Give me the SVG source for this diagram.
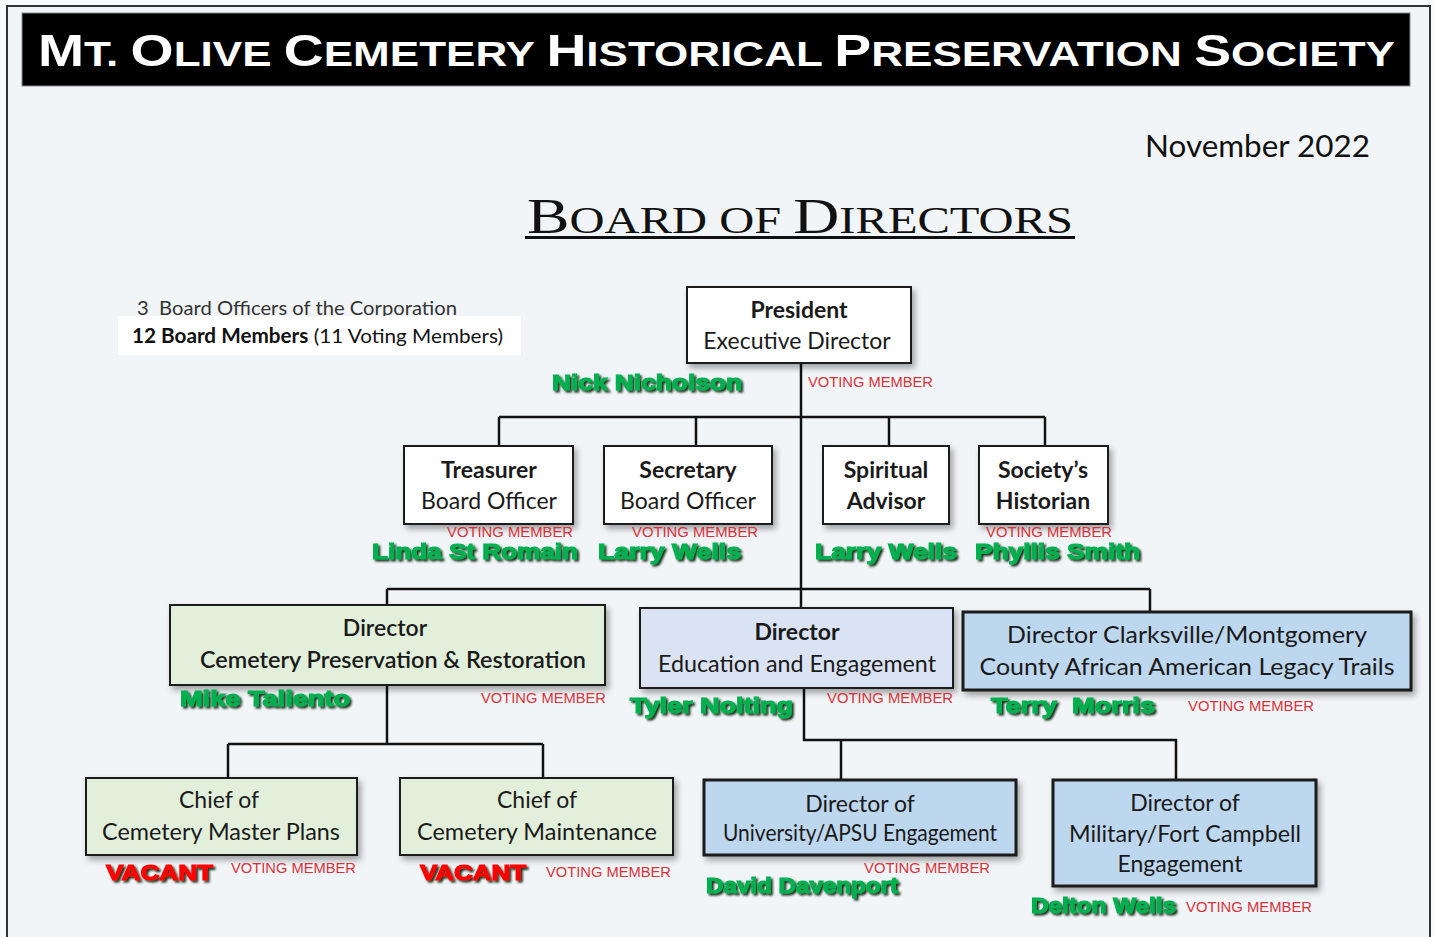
<svg xmlns="http://www.w3.org/2000/svg" width="1435" height="937" viewBox="0 0 1435 937">
<defs>
<filter id="sh" x="-10%" y="-10%" width="130%" height="140%">
<feDropShadow dx="3" dy="4" stdDeviation="3" flood-color="#000" flood-opacity="0.35"/>
</filter>
<filter id="ts" x="-5%" y="-20%" width="115%" height="160%">
<feDropShadow dx="2" dy="2" stdDeviation="0.8" flood-color="#0b2410" flood-opacity="0.95"/>
</filter>
<style>
.box{stroke:#1a1a1a;stroke-width:2}
.thick{stroke-width:3}
.w{fill:#ffffff}
.g{fill:#e2efda}
.lb{fill:#dae3f3}
.b{fill:#bdd7ee}
.t{font-family:Lato,"Open Sans",sans-serif;fill:#1a1a1a;text-anchor:middle;font-size:23px}
.bd{font-weight:bold}
.sb{font-weight:600}
.vm{font-family:"Liberation Sans Narrow","Liberation Sans",Arial,sans-serif;fill:#d9323a;font-size:14px}
.nm{font-family:"Liberation Sans",Arial,sans-serif;font-weight:bold;font-size:22px;fill:#00b050;stroke:#00b050;stroke-width:1.2;filter:url(#ts)}
.vac{fill:#ff0000;stroke:#ff0000}
.ln{stroke:#111;stroke-width:2.5;fill:none}
</style>
</defs>
<rect x="0" y="0" width="1435" height="937" fill="#f7f9fa"/>
<rect x="7" y="6" width="1423" height="940" fill="#f2f5f7" stroke="#333" stroke-width="2"/>
<rect x="22" y="13" width="1388" height="73" fill="#000" stroke="#888" stroke-width="1"/>
<text x="38" y="66" textLength="1357" lengthAdjust="spacingAndGlyphs" font-family="'Liberation Sans',Arial,sans-serif" font-weight="bold" fill="#fff" font-size="44">M<tspan font-size="35">T. </tspan>O<tspan font-size="35">LIVE </tspan>C<tspan font-size="35">EMETERY </tspan>H<tspan font-size="35">ISTORICAL </tspan>P<tspan font-size="35">RESERVATION </tspan>S<tspan font-size="35">OCIETY</tspan></text>
<text x="1145" y="157" textLength="225" lengthAdjust="spacingAndGlyphs" font-family="Lato,'Open Sans',sans-serif" font-size="30" fill="#111">November 2022</text>
<text x="527" y="233" textLength="546" lengthAdjust="spacingAndGlyphs" font-family="'Liberation Serif',serif" font-size="50" fill="#111">B<tspan font-size="38">OARD OF </tspan>D<tspan font-size="38">IRECTORS</tspan></text>
<rect x="525" y="236" width="550" height="3" fill="#111"/>
<text x="137" y="315" textLength="320" lengthAdjust="spacingAndGlyphs" font-family="Lato,'Open Sans',sans-serif" font-size="19" fill="#333" xml:space="preserve">3  Board Officers of the Corporation</text>
<rect x="118" y="316" width="403" height="39" fill="#ffffff"/>
<text x="132" y="343" textLength="371" lengthAdjust="spacingAndGlyphs" font-family="Lato,'Open Sans',sans-serif" font-size="20" fill="#111"><tspan font-weight="bold">12 Board Members</tspan> (11 Voting Members)</text>

<g id="connectors">
<path class="ln" d="M801 363 V589 M499 417 H1045 M499 417 V446 M696 417 V446 M889 417 V446 M1045 417 V446"/>
<path class="ln" d="M387 589 H1150 M387 589 V605 M801 589 V608 M1150 589 V612"/>
<path class="ln" d="M387 685 V744 M228 744 H543 M228 744 V778 M543 744 V778"/>
<path class="ln" d="M804 688 V740 H1176 V780 M841 740 V780"/>
</g>

<g id="president">
<rect class="box w" x="687" y="287" width="224" height="76" filter="url(#sh)"/>
<text class="t bd" x="799" y="318">President</text>
<text class="t" x="797" y="349">Executive Director</text>
<text class="nm" x="552" y="390" textLength="190" lengthAdjust="spacingAndGlyphs">Nick Nicholson</text>
<text class="vm" x="808" y="387" textLength="125" lengthAdjust="spacingAndGlyphs">VOTING MEMBER</text>
</g>

<g id="treasurer">
<rect class="box w" x="404" y="446" width="169" height="78" filter="url(#sh)"/>
<text class="t bd" x="489" y="478">Treasurer</text>
<text class="t" x="489" y="509">Board Officer</text>
<text class="vm" x="447" y="537" textLength="126" lengthAdjust="spacingAndGlyphs">VOTING MEMBER</text>
<text class="nm" x="372" y="559" textLength="206" lengthAdjust="spacingAndGlyphs">Linda St Romain</text>
</g>

<g id="secretary">
<rect class="box w" x="604" y="446" width="168" height="78" filter="url(#sh)"/>
<text class="t bd" x="688" y="478">Secretary</text>
<text class="t" x="688" y="509">Board Officer</text>
<text class="vm" x="632" y="537" textLength="126" lengthAdjust="spacingAndGlyphs">VOTING MEMBER</text>
<text class="nm" x="598" y="559" textLength="143" lengthAdjust="spacingAndGlyphs">Larry Wells</text>
</g>

<g id="spiritual">
<rect class="box w" x="823" y="446" width="126" height="78" filter="url(#sh)"/>
<text class="t bd" x="886" y="478">Spiritual</text>
<text class="t bd" x="886" y="509">Advisor</text>
<text class="nm" x="815" y="559" textLength="142" lengthAdjust="spacingAndGlyphs">Larry Wells</text>
</g>

<g id="historian">
<rect class="box w" x="979" y="446" width="129" height="78" filter="url(#sh)"/>
<text class="t bd" x="1043" y="478">Society’s</text>
<text class="t bd" x="1043" y="509">Historian</text>
<text class="vm" x="986" y="537" textLength="126" lengthAdjust="spacingAndGlyphs">VOTING MEMBER</text>
<text class="nm" x="975" y="559" textLength="165" lengthAdjust="spacingAndGlyphs">Phyllis Smith</text>
</g>

<g id="dir-preservation">
<rect class="box g" x="170" y="605" width="435" height="80" filter="url(#sh)"/>
<text class="t sb" x="385" y="636">Director</text>
<text class="t sb" x="393" y="668" textLength="386" lengthAdjust="spacingAndGlyphs">Cemetery Preservation &amp; Restoration</text>
<text class="nm" x="180" y="706" textLength="170" lengthAdjust="spacingAndGlyphs">Mike Taliento</text>
<text class="vm" x="481" y="703" textLength="125" lengthAdjust="spacingAndGlyphs">VOTING MEMBER</text>
</g>

<g id="dir-education">
<rect class="box lb" x="640" y="608" width="313" height="80" filter="url(#sh)"/>
<text class="t bd" x="797" y="640">Director</text>
<text class="t" x="797" y="672" textLength="278" lengthAdjust="spacingAndGlyphs">Education and Engagement</text>
<text class="nm" x="630" y="713" textLength="163" lengthAdjust="spacingAndGlyphs">Tyler Nolting</text>
<text class="vm" x="827" y="703" textLength="126" lengthAdjust="spacingAndGlyphs">VOTING MEMBER</text>
</g>

<g id="dir-legacy">
<rect class="box b thick" x="963" y="612" width="448" height="78" filter="url(#sh)"/>
<text class="t" x="1187" y="643" textLength="360" lengthAdjust="spacingAndGlyphs">Director Clarksville/Montgomery</text>
<text class="t" x="1187" y="675" textLength="415" lengthAdjust="spacingAndGlyphs">County African American Legacy Trails</text>
<text class="nm" x="991" y="713" textLength="164" lengthAdjust="spacingAndGlyphs" xml:space="preserve">Terry  Morris</text>
<text class="vm" x="1188" y="711" textLength="126" lengthAdjust="spacingAndGlyphs">VOTING MEMBER</text>
</g>

<g id="chief-plans">
<rect class="box g" x="86" y="778" width="271" height="77" filter="url(#sh)"/>
<text class="t" x="219" y="808">Chief of</text>
<text class="t" x="221" y="840" textLength="238" lengthAdjust="spacingAndGlyphs">Cemetery Master Plans</text>
<text class="nm vac" x="106" y="880" textLength="107" lengthAdjust="spacingAndGlyphs">VACANT</text>
<text class="vm" x="231" y="873" textLength="125" lengthAdjust="spacingAndGlyphs">VOTING MEMBER</text>
</g>

<g id="chief-maintenance">
<rect class="box g" x="400" y="778" width="273" height="77" filter="url(#sh)"/>
<text class="t" x="537" y="808">Chief of</text>
<text class="t" x="537" y="840" textLength="240" lengthAdjust="spacingAndGlyphs">Cemetery Maintenance</text>
<text class="nm vac" x="420" y="880" textLength="106" lengthAdjust="spacingAndGlyphs">VACANT</text>
<text class="vm" x="546" y="877" textLength="125" lengthAdjust="spacingAndGlyphs">VOTING MEMBER</text>
</g>

<g id="dir-university">
<rect class="box b thick" x="704" y="780" width="312" height="75" filter="url(#sh)"/>
<text class="t" x="860" y="812" font-size="24">Director of</text>
<text class="t" x="860" y="841" font-size="21" textLength="274" lengthAdjust="spacingAndGlyphs">University/APSU Engagement</text>
<text class="vm" x="864" y="873" textLength="126" lengthAdjust="spacingAndGlyphs">VOTING MEMBER</text>
<text class="nm" x="706" y="893" textLength="192" lengthAdjust="spacingAndGlyphs">David Davenport</text>
</g>

<g id="dir-military">
<rect class="box b thick" x="1053" y="780" width="263" height="106" filter="url(#sh)"/>
<text class="t" x="1185" y="811">Director of</text>
<text class="t" x="1185" y="842" textLength="232" lengthAdjust="spacingAndGlyphs">Military/Fort Campbell</text>
<text class="t" x="1180" y="872">Engagement</text>
<text class="nm" x="1031" y="913" textLength="145" lengthAdjust="spacingAndGlyphs">Delton Wells</text>
<text class="vm" x="1186" y="912" textLength="126" lengthAdjust="spacingAndGlyphs">VOTING MEMBER</text>
</g>
</svg>
